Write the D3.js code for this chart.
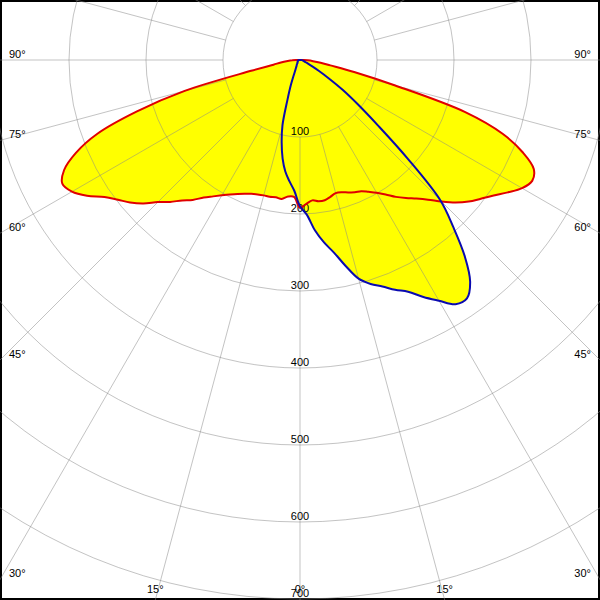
<!DOCTYPE html>
<html>
<head>
<meta charset="utf-8">
<script src="https://cdn.jsdelivr.net/npm/d3@7"></script>
<style>
  html, body { margin: 0; padding: 0; background: #fff; }
  svg { display: block; }
  text { font-family: "Liberation Sans", Arial, sans-serif; font-size: 11px; fill: #000; }
</style>
</head>
<body>
<svg id="chart" width="600" height="600"></svg>
<script>
// Gamma angles (degrees): negative = left half (C180), positive = right half (C0)
const angles = [-90,-87.5,-85,-82.5,-80,-77.5,-75,-72.5,-70,-67.5,-65,-62.5,-60,-57.5,-55,-52.5,-50,-47.5,-45,-42.5,-40,-37.5,-35,-32.5,-30,-27.5,-25,-22.5,-20,-17.5,-15,-12.5,-10,-7.5,-5,-2.5,
  0,2.5,5,7.5,10,12.5,15,17.5,20,22.5,25,27.5,30,32.5,35,37.5,40,42.5,45,47.5,50,52.5,55,57.5,60,62.5,65,67.5,70,72.5,75,77.5,80,82.5,85,87.5,90];

// C0-C180 plane (red)
const redValues = [5,10,16,25,35,65,155,222,280,315,338,348,342,328,310,298,288,276,261,250,238,229,218,210,203,197,192,188,185,183,182,182,181,182,178,178,
  192,187,183,185,185,182,179,180,183,186,188,193,199,207,217,226,235,246,260,274,286,296,307,320,333,340,335,313,280,225,128,72,40,27,17,10,5];

// C90-C270 plane (blue)
const blueValues = [2,2,2,2,2,2,2,3,3,3,3,3,3,3,4,4,4,4,5,5,5,6,7,8,9,11,14,21,35,54,88,110,130,146,158,170,
  190,201,222,239,254,274,294,305,313,323,332,347,361,376,378,363,333,295,258,190,132,95,68,44,28,18,12,9,7,6,5,4,4,3,3,2,2];

const ringTicks = [100,200,300,400,500,600,700];
const angleLabelTicks = [-90,-75,-60,-45,-30,-15,0,15,30,45,60,75,90];
const gridAngles = [0,15,30,45,60,75,90,105,120,135,150,165,180,195,210,225,240,255,270,285,300,315,330,345];

const W = 600, H = 600;
const cx = 300, cy = 60;
const r = d3.scaleLinear().domain([0, 700]).range([0, 539]);
const rad = d => d * Math.PI / 180;

const svg = d3.select("#chart");

// background + frame
svg.append("rect").attr("x", 1).attr("y", 1).attr("width", W - 2).attr("height", H - 2)
  .attr("fill", "#fff").attr("stroke", "#000").attr("stroke-width", 2);

const g = svg.append("g").attr("transform", `translate(${cx},${cy})`);

// gamma measured from straight down; lineRadial angle measured from up, clockwise
const line = d3.lineRadial()
  .angle(d => Math.PI - rad(d[0]))
  .radius(d => r(d[1]))
  .curve(d3.curveCatmullRomClosed.alpha(0.5));

const redPts = angles.map((a, i) => [a, redValues[i]]);
const bluePts = angles.map((a, i) => [a, blueValues[i]]);

// fills
g.append("path").attr("d", line(redPts)).attr("fill", "#ffff00").attr("stroke", "none");
g.append("path").attr("d", line(bluePts)).attr("fill", "#ffff00").attr("stroke", "none");

// grid
const grid = g.append("g").attr("stroke", "#888").attr("stroke-opacity", 0.5).attr("fill", "none").attr("stroke-width", 1);
ringTicks.forEach(t => grid.append("circle").attr("r", r(t)));
gridAngles.forEach(a => {
  const s = Math.sin(rad(a)), c = Math.cos(rad(a));
  grid.append("line")
    .attr("x1", r(100) * s).attr("y1", r(100) * c)
    .attr("x2", 900 * s).attr("y2", 900 * c);
});

// ring labels
ringTicks.forEach(t => {
  g.append("text").attr("x", 0).attr("y", r(t) - 2)
    .attr("text-anchor", "middle").text(t);
});

// angle labels at the frame edges
angleLabelTicks.forEach(a => {
  const s = Math.sin(rad(a)), c = Math.cos(rad(a));
  let x, y, anchor;
  const tSide = s !== 0 ? (s < 0 ? -cx / s : (W - cx) / s) : Infinity;
  const tBot = c > 1e-9 ? (H - cy) / c : Infinity;
  if (tSide <= tBot) {
    const ey = cy + tSide * c;
    y = ey - 2.5;
    if (s < 0) { x = 9; anchor = "start"; } else { x = 591; anchor = "end"; }
  } else {
    x = cx + tBot * s;
    y = 593;
    anchor = "middle";
  }
  svg.append("text").attr("x", x).attr("y", y).attr("text-anchor", anchor)
    .text(Math.abs(a) + "°");
});

// outlines
g.append("path").attr("d", line(redPts)).attr("fill", "none")
  .attr("stroke", "#e00000").attr("stroke-width", 2).attr("stroke-linejoin", "round");
g.append("path").attr("d", line(bluePts)).attr("fill", "none")
  .attr("stroke", "#0a0ab0").attr("stroke-width", 2).attr("stroke-linejoin", "round");
</script>
</body>
</html>
